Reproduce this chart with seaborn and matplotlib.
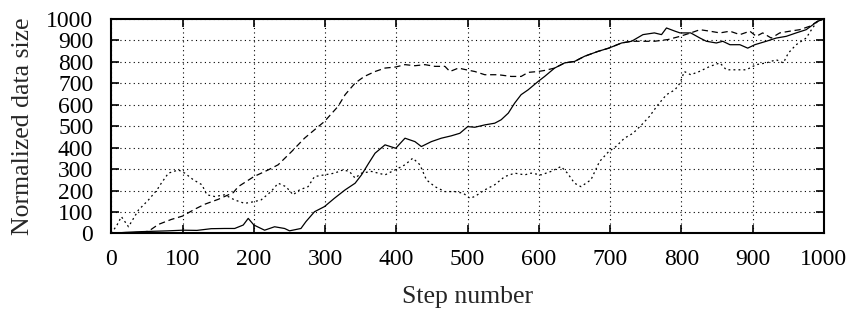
import numpy as np
import pandas as pd
import matplotlib
matplotlib.use("Agg")
import matplotlib.pyplot as plt
import seaborn as sns

# valores (passo, tamanho normalizado)
solid_step = [0, 20, 40, 60, 80, 100, 120, 140, 159, 173, 185, 192, 200, 215, 229, 243, 250,
              266, 273, 285, 299, 313, 328, 342, 351, 361, 370, 384, 399, 412, 426, 435, 449,
              463, 477, 489, 500, 510, 524, 538, 547, 557, 566, 575, 585, 599, 608, 622, 636,
              650, 664, 683, 698, 716, 730, 746, 762, 772, 779, 791, 798, 813, 826, 835, 849,
              858, 868, 882, 893, 903, 919, 933, 947, 961, 975, 991, 1000]
solid_val = [0, 5, 8, 10, 12, 15, 14, 22, 23, 23, 39, 70, 39, 15, 31, 23, 12,
             23, 55, 101, 125, 164, 203, 234, 273, 327, 374, 413, 397, 444, 428, 405, 428,
             444, 455, 467, 498, 495, 506, 514, 530, 561, 608, 647, 670, 709, 732, 771, 795,
             802, 826, 849, 864, 888, 896, 927, 935, 927, 958, 943, 935, 935, 911, 896, 888,
             896, 880, 880, 864, 880, 896, 911, 919, 935, 950, 989, 1000]

dashed_step = [0, 20, 40, 52, 66, 84, 100, 117, 131, 150, 171, 178, 200, 220, 234, 253, 271,
               285, 299, 318, 328, 342, 355, 370, 384, 399, 412, 426, 440, 454, 468, 475, 487,
               498, 510, 524, 543, 561, 575, 585, 599, 608, 622, 636, 650, 664, 683, 698, 716,
               730, 746, 762, 781, 798, 813, 826, 840, 854, 868, 882, 896, 905, 914, 926, 938,
               952, 966, 980, 991, 1000]
dashed_val = [0, 2, 5, 10, 42, 65, 81, 113, 136, 159, 190, 218, 265, 296, 320, 382, 444,
              483, 522, 592, 647, 701, 732, 755, 771, 776, 787, 782, 787, 779, 779, 755, 771,
              763, 755, 740, 740, 732, 732, 751, 755, 760, 771, 795, 802, 826, 849, 864, 888,
              896, 896, 896, 904, 919, 935, 950, 943, 935, 943, 927, 943, 919, 935, 911, 935,
              943, 950, 966, 989, 1000]

dotted_step = [0, 8, 14, 24, 38, 52, 64, 70, 80, 94, 103, 115, 127, 134, 145, 159, 173, 187,
               200, 210, 224, 234, 245, 255, 264, 276, 285, 299, 313, 325, 334, 342, 351, 365,
               384, 398, 412, 423, 433, 442, 454, 468, 482, 494, 503, 510, 524, 538, 552, 566,
               580, 589, 603, 617, 631, 640, 650, 659, 673, 685, 698, 708, 720, 732, 744, 755,
               767, 779, 791, 798, 804, 813, 825, 840, 854, 863, 877, 891, 905, 919, 933, 943,
               950, 961, 975, 984, 991, 1000]
dotted_val = [0, 40, 78, 31, 109, 156, 203, 234, 281, 296, 281, 250, 227, 180, 172, 180, 156, 140,
              148, 156, 195, 234, 218, 180, 203, 218, 265, 273, 281, 296, 289, 258, 281, 289,
              273, 296, 320, 351, 320, 250, 218, 195, 195, 187, 164, 172, 203, 227, 265, 281,
              273, 281, 273, 289, 312, 281, 234, 218, 250, 335, 382, 405, 444, 467, 506, 545,
              600, 647, 670, 701, 755, 740, 755, 779, 795, 763, 763, 763, 787, 795, 810, 795,
              841, 880, 911, 958, 989, 1000]

x_ticks = list(range(0, 1001, 100))
y_ticks = list(range(0, 1001, 100))

sns.set_style("ticks")
plt.rcParams['font.family'] = ['Liberation Serif', 'DejaVu Serif']

fig = plt.figure(figsize=(8.55, 3.11), dpi=100)
ax = fig.add_axes([0.1303, 0.2495, 0.8334, 0.6895])

sns.lineplot(x=solid_step, y=solid_val, ax=ax, color='black', linewidth=0.9, linestyle='-')
sns.lineplot(x=dashed_step, y=dashed_val, ax=ax, color='black', linewidth=0.9,
             linestyle=(0, (5, 3)))
sns.lineplot(x=dotted_step, y=dotted_val, ax=ax, color='black', linewidth=0.9,
             linestyle=(0, (1.5, 2.5)))

ax.set_xlim(0, 1000)
ax.set_ylim(0, 1000)
ax.set_xticks(x_ticks)
ax.set_yticks(y_ticks)
ax.grid(True, linestyle=(0, (1, 3)), color='black', linewidth=0.8)
ax.tick_params(direction='in', length=6, width=1.2, top=True, right=True,
               labelsize=17, colors='black')
ax.tick_params(axis='y', pad=13)
ax.tick_params(axis='x', pad=11)
for s in ax.spines.values():
    s.set_linewidth(1.5)
    s.set_color('black')

ax.set_xlabel('Step number', fontsize=18.5, labelpad=12)
ax.set_ylabel('Normalized data size', fontsize=18.5, labelpad=9)

fig.savefig('out.png', dpi=100)
